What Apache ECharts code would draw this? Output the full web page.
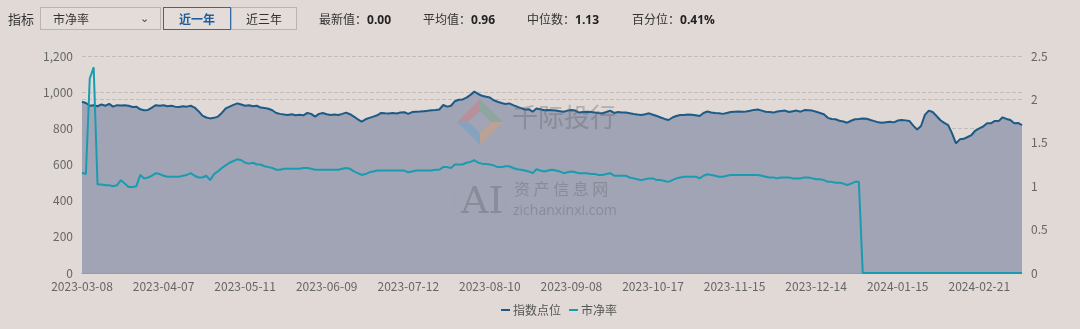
<!DOCTYPE html>
<html>
<head>
<meta charset="utf-8">
<script src="https://cdn.jsdelivr.net/npm/echarts@6/dist/echarts.min.js"></script>
<style>
  html, body { margin:0; padding:0; background:#e0d9d6; }
  #wrap { position:relative; width:1080px; height:329px; overflow:hidden; font-family:"Noto Sans CJK SC","Noto Sans",sans-serif; }
  #chart { position:absolute; left:0; top:0; width:1080px; height:329px; }
  .ui { position:absolute; font-size:12px; color:#333; line-height:22px; white-space:nowrap; }
  .box { position:absolute; box-sizing:border-box; height:23px; border:1px solid #b9b4b2; background:#e3dcd9; font-size:12px; line-height:21px; color:#333; }
  .stat b { font-family:"Open Sans","Noto Sans",sans-serif; font-weight:700; color:#222; }
</style>
</head>
<body>
<div id="wrap">
  <div id="chart"></div>
  <div class="ui" style="left:8px;top:8px;font-size:13px;">指标</div>
  <div class="box" style="left:40px;top:7px;width:121px;padding-left:12px;">市净率<span style="position:absolute;left:99px;top:-1px;font-size:11px;color:#444;">&#8964;</span></div>
  <div class="box" style="left:163px;top:7px;width:68px;text-align:center;border-color:#2d6aa6;color:#1d5d9c;font-weight:700;">近一年</div>
  <div class="box" style="left:231px;top:7px;width:66px;text-align:center;">近三年</div>
  <div class="ui stat" style="left:319px;top:8px;">最新值：<b>0.00</b></div>
  <div class="ui stat" style="left:423px;top:8px;">平均值：<b>0.96</b></div>
  <div class="ui stat" style="left:527px;top:8px;">中位数：<b>1.13</b></div>
  <div class="ui stat" style="left:632px;top:8px;">百分位：<b>0.41%</b></div>
</div>
<script>
// ---- Category axis: trading days (China A-share calendar) ----
const startDate = '2023-03-08';
const pointCount = 243;
const marketHolidays = [
  '2023-04-05','2023-05-01','2023-05-02','2023-05-03','2023-06-22','2023-06-23',
  '2023-09-29','2023-10-02','2023-10-03','2023-10-04','2023-10-05','2023-10-06',
  '2024-01-01','2024-02-09','2024-02-12','2024-02-13','2024-02-14','2024-02-15','2024-02-16'
];
function buildTradingDays(start, n, hol) {
  const out = [];
  const d = new Date(start + 'T00:00:00Z');
  while (out.length < n) {
    const wd = d.getUTCDay();
    const s = d.toISOString().slice(0, 10);
    if (wd !== 0 && wd !== 6 && hol.indexOf(s) < 0) out.push(s);
    d.setUTCDate(d.getUTCDate() + 1);
  }
  return out;
}
const dates = buildTradingDays(startDate, pointCount, marketHolidays);

// ---- Series: 指数点位 (left axis) ----
const indexPoints = [
  947, 940, 925, 928, 922, 932, 925, 935, 920, 928,
  926, 928, 925, 918, 920, 905, 900, 902, 915, 928,
  925, 928, 922, 925, 920, 918, 922, 920, 925, 915,
  895, 870, 860, 855, 858, 865, 885, 910, 920, 930,
  938, 932, 925, 928, 922, 925, 915, 912, 908, 900,
  885, 880, 876, 874, 878, 872, 875, 872, 885, 880,
  865, 880, 885, 878, 874, 876, 874, 880, 887, 878,
  865, 850, 837, 850, 858, 865, 872, 885, 883, 882,
  885, 882, 888, 889, 880, 890, 892, 893, 895, 897,
  900, 901, 904, 929, 920, 925, 950, 958, 960, 970,
  985, 1003, 990, 980, 975, 970, 955, 947, 940, 935,
  938, 928, 920, 912, 904, 906, 892, 910, 905, 900,
  902, 900, 898, 895, 892, 898, 901, 898, 887, 890,
  892, 890, 888, 885, 883, 890, 898, 885, 890, 888,
  887, 883, 879, 876, 874, 878, 883, 875, 868, 860,
  852, 846, 860, 868, 874, 874, 876, 875, 872, 868,
  885, 893, 888, 885, 883, 880, 885, 890, 892, 893,
  892, 893, 897, 902, 904, 898, 892, 890, 887, 893,
  896, 898, 890, 895, 898, 892, 901, 900, 898, 892,
  885, 878, 858, 852, 850, 842, 838, 831, 842, 850,
  852, 855, 853, 846, 840, 833, 831, 834, 837, 833,
  843, 846, 844, 841, 815, 794, 813, 874, 898, 890,
  868, 845, 830, 818, 772, 717, 739, 742, 752, 763,
  788, 800, 810, 828, 828, 841, 840, 861, 852, 846,
  828, 830, 818
];

// ---- Series: 市净率 (right axis) ----
const pbValues = [
  1.155, 1.14, 2.24, 2.37, 1.02, 1.02, 1.01, 1.01, 1.0, 1.01,
  1.07, 1.03, 0.99, 0.99, 1.0, 1.13, 1.09, 1.1, 1.12, 1.15,
  1.14, 1.12, 1.11, 1.11, 1.11, 1.11, 1.12, 1.13, 1.15, 1.12,
  1.1, 1.1, 1.12, 1.07, 1.14, 1.17, 1.21, 1.24, 1.27, 1.29,
  1.31, 1.30, 1.27, 1.26, 1.27, 1.25, 1.25, 1.23, 1.22, 1.21,
  1.19, 1.19, 1.2, 1.2, 1.2, 1.2, 1.2, 1.21, 1.21, 1.2,
  1.19, 1.19, 1.19, 1.19, 1.19, 1.19, 1.19, 1.2, 1.21, 1.2,
  1.17, 1.15, 1.13, 1.14, 1.16, 1.17, 1.18, 1.18, 1.18, 1.18,
  1.18, 1.18, 1.18, 1.18, 1.16, 1.17, 1.18, 1.18, 1.18, 1.18,
  1.18, 1.19, 1.19, 1.22, 1.22, 1.21, 1.25, 1.25, 1.25, 1.27,
  1.28, 1.30, 1.27, 1.26, 1.256, 1.25, 1.24, 1.22, 1.22, 1.23,
  1.23, 1.21, 1.195, 1.19, 1.18, 1.17, 1.15, 1.195, 1.18, 1.17,
  1.18, 1.19, 1.18, 1.17, 1.15, 1.16, 1.17, 1.16, 1.15, 1.15,
  1.15, 1.14, 1.14, 1.13, 1.13, 1.14, 1.15, 1.12, 1.12, 1.12,
  1.12, 1.1, 1.09, 1.08, 1.07, 1.08, 1.09, 1.09, 1.07, 1.07,
  1.06, 1.05, 1.07, 1.09, 1.1, 1.11, 1.11, 1.11, 1.11, 1.09,
  1.12, 1.137, 1.13, 1.12, 1.11, 1.11, 1.12, 1.13, 1.13, 1.13,
  1.13, 1.13, 1.13, 1.13, 1.13, 1.12, 1.11, 1.1, 1.1, 1.09,
  1.1, 1.1, 1.1, 1.09, 1.09, 1.09, 1.1, 1.1, 1.09, 1.08,
  1.08, 1.07, 1.05, 1.05, 1.04, 1.04, 1.03, 1.014, 1.03, 1.05,
  1.05, 0, 0, 0, 0, 0, 0, 0, 0, 0,
  0, 0, 0, 0, 0, 0, 0, 0, 0, 0,
  0, 0, 0, 0, 0, 0, 0, 0, 0, 0,
  0, 0, 0, 0, 0, 0, 0, 0, 0, 0,
  0, 0, 0
];

const seriesNames = ['指数点位', '市净率'];
const leftTicks = { min: 0, max: 1200, interval: 200 };
const rightTicks = { min: 0, max: 2.5, interval: 0.5 };

const chart = echarts.init(document.getElementById('chart'), null, { renderer: 'canvas' });
const FONT = '"Noto Sans CJK SC","Noto Sans",sans-serif';
const wmColor = 'rgba(95,95,100,0.35)';

chart.setOption({
  backgroundColor: '#e0d9d6',
  animation: false,
  textStyle: { fontFamily: FONT },
  grid: { left: 82, right: 58, top: 56, bottom: 56 },
  legend: {
    data: seriesNames,
    top: 299,
    left: 495,
    itemWidth: 9,
    itemHeight: 2,
    itemGap: 7,
    textStyle: { color: '#555', fontSize: 12, fontFamily: FONT, padding: [0, 0, 0, -2] }
  },
  xAxis: {
    type: 'category',
    data: dates,
    boundaryGap: false,
    axisLine: { lineStyle: { color: '#9a9a9a' } },
    axisTick: { show: false },
    axisLabel: { interval: 20, color: '#666', fontSize: 12, margin: 7, fontFamily: FONT }
  },
  yAxis: [
    {
      type: 'value',
      min: leftTicks.min, max: leftTicks.max, interval: leftTicks.interval,
      axisLine: { show: false },
      axisTick: { show: false },
      axisLabel: {
        color: '#666', fontSize: 12, margin: 9, fontFamily: FONT,
        formatter: v => v.toLocaleString('en-US')
      },
      splitLine: { lineStyle: { color: '#c4bcba', type: 'dashed', width: 1 } }
    },
    {
      type: 'value',
      min: rightTicks.min, max: rightTicks.max, interval: rightTicks.interval,
      axisLine: { show: false },
      axisTick: { show: false },
      axisLabel: { color: '#666', fontSize: 12, margin: 9, fontFamily: FONT },
      splitLine: { lineStyle: { color: '#c4bcba', type: 'dashed', width: 1 } }
    }
  ],
  series: [
    {
      name: seriesNames[0],
      type: 'line',
      yAxisIndex: 0,
      data: indexPoints,
      symbol: 'none',
      lineStyle: { color: '#1c5a87', width: 2 },
      itemStyle: { color: '#1c5a87' },
      areaStyle: { color: '#a0a4b5', opacity: 1 },
      z: 2
    },
    {
      name: seriesNames[1],
      type: 'line',
      yAxisIndex: 1,
      data: pbValues,
      symbol: 'none',
      lineStyle: { color: '#1a9cb0', width: 2 },
      itemStyle: { color: '#1a9cb0' },
      z: 3
    }
  ],
  graphic: [
    { type: 'polygon', z: 100, shape: { points: [[457,122],[480,99],[480,111],[468,122]] }, style: { fill: 'rgba(230,110,110,0.35)' } },
    { type: 'polygon', z: 100, shape: { points: [[480,99],[503,122],[491,122],[480,111]] }, style: { fill: 'rgba(110,170,120,0.35)' } },
    { type: 'polygon', z: 100, shape: { points: [[457,122],[468,122],[480,133],[480,145]] }, style: { fill: 'rgba(90,160,210,0.35)' } },
    { type: 'polygon', z: 100, shape: { points: [[503,122],[480,145],[480,133],[491,122]] }, style: { fill: 'rgba(240,160,90,0.35)' } },
    { type: 'text', z: 100, style: { text: '千际投行', x: 512, y: 104, font: '26px ' + FONT, fill: wmColor } },
    { type: 'circle', z: 100, shape: { cx: 480, cy: 203, r: 26 }, style: { fill: 'none', stroke: 'rgba(150,150,150,0.25)', lineWidth: 1, lineDash: [2, 2] } },
    { type: 'text', z: 100, style: { text: 'AI', x: 461, y: 184, font: '38px "DejaVu Serif","Liberation Serif",serif', fill: wmColor } },
    { type: 'text', z: 100, style: { text: '资 产 信 息 网', x: 514, y: 181, font: '16px ' + FONT, fill: wmColor } },
    { type: 'text', z: 100, style: { text: 'zichanxinxi.com', x: 513, y: 204, font: '14px "Open Sans","Noto Sans",sans-serif', fill: wmColor } }
  ]
});
</script>
</body>
</html>
